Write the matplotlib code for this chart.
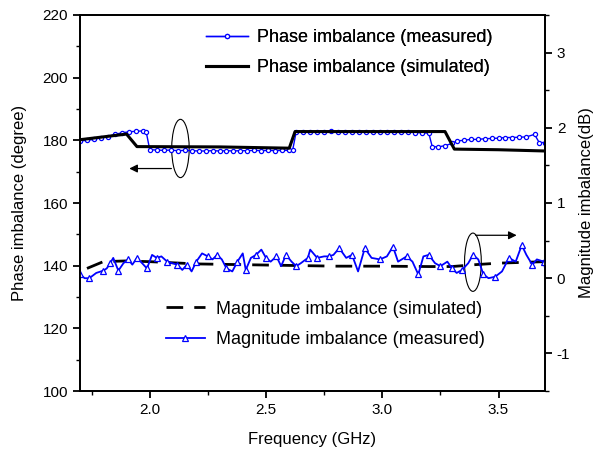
import matplotlib
matplotlib.use('Agg')
import matplotlib.pyplot as plt
from matplotlib.patches import Ellipse
from matplotlib.ticker import MultipleLocator, FormatStrFormatter

plt.rcParams['font.family'] = ['Liberation Sans', 'DejaVu Sans']
plt.rcParams['axes.unicode_minus'] = False

# phase imbalance, measured (degree)
phase_meas_f = [1.70, 1.73, 1.76, 1.79, 1.82, 1.85, 1.88, 1.91, 1.94, 1.97,
                1.985, 2.00, 2.03, 2.06, 2.09, 2.12, 2.15, 2.18, 2.21, 2.24,
                2.27, 2.30, 2.33, 2.36, 2.39, 2.42, 2.45, 2.48, 2.51, 2.54,
                2.57, 2.60, 2.615, 2.63, 2.66, 2.69, 2.72, 2.75, 2.78, 2.81,
                2.84, 2.87, 2.90, 2.93, 2.96, 2.99, 3.02, 3.05, 3.08, 3.11,
                3.14, 3.17, 3.20, 3.215, 3.24, 3.27, 3.30, 3.32, 3.35, 3.38,
                3.41, 3.44, 3.47, 3.50, 3.53, 3.56, 3.59, 3.62, 3.655, 3.675,
                3.70]
phase_meas = [179.8, 180.0, 180.3, 180.8, 181.2, 181.9, 182.4, 182.7, 182.9, 183.0,
              182.6, 177.0, 176.9, 176.8, 176.9, 176.7, 176.8, 176.7, 176.6, 176.6,
              176.7, 176.6, 176.7, 176.6, 176.7, 176.7, 176.8, 176.7, 176.8, 176.7,
              176.8, 176.8, 177.0, 182.8, 182.8, 182.7, 182.8, 182.8, 182.9, 182.7,
              182.8, 182.8, 182.7, 182.8, 182.6, 182.6, 182.7, 182.6, 182.7, 182.7,
              182.5, 182.4, 182.3, 178.0, 177.9, 178.3, 179.0, 179.8, 180.0, 180.3,
              180.3, 180.5, 180.6, 180.7, 180.9, 180.9, 181.0, 181.1, 181.9, 179.3,
              179.3]

# phase imbalance, simulated (degree)
phase_sim_f = [1.70, 1.90, 1.945, 2.30, 2.60, 2.625, 3.27, 3.31, 3.50, 3.70]
phase_sim = [180.2, 182.0, 178.0, 177.9, 177.5, 182.8, 182.8, 177.2, 177.0, 176.6]

# magnitude imbalance, measured (dB)
mag_meas_f = [1.70, 1.72, 1.74, 1.77, 1.80, 1.815, 1.83, 1.843, 1.865, 1.887,
              1.908, 1.925, 1.945, 1.967, 1.988, 2.01, 2.03, 2.05, 2.075, 2.096,
              2.118, 2.14, 2.16, 2.18, 2.20, 2.225, 2.25, 2.27, 2.29, 2.31,
              2.33, 2.355, 2.377, 2.40, 2.413, 2.435, 2.457, 2.48, 2.50, 2.52,
              2.545, 2.565, 2.586, 2.61, 2.63, 2.65, 2.68, 2.69, 2.72, 2.75,
              2.77, 2.79, 2.815, 2.845, 2.87, 2.896, 2.925, 2.954, 2.99, 3.02,
              3.046, 3.068, 3.105, 3.13, 3.155, 3.177, 3.20, 3.227, 3.25, 3.28,
              3.30, 3.32, 3.343, 3.37, 3.39, 3.413, 3.435, 3.457, 3.486, 3.515,
              3.545, 3.574, 3.60, 3.62, 3.645, 3.665, 3.695, 3.70]
mag_meas = [0.05, 0.0, 0.0, 0.07, 0.10, 0.13, 0.20, 0.27, 0.10, 0.20,
            0.25, 0.18, 0.27, 0.20, 0.13, 0.31, 0.27, 0.29, 0.22, 0.20,
            0.18, 0.11, 0.18, 0.09, 0.22, 0.33, 0.29, 0.25, 0.31, 0.25,
            0.13, 0.09, 0.22, 0.33, 0.11, 0.27, 0.31, 0.38, 0.27, 0.22,
            0.29, 0.16, 0.31, 0.22, 0.16, 0.20, 0.27, 0.38, 0.27, 0.29,
            0.29, 0.31, 0.40, 0.27, 0.31, 0.09, 0.40, 0.27, 0.25, 0.29,
            0.42, 0.22, 0.29, 0.22, 0.05, 0.29, 0.31, 0.20, 0.16, 0.22,
            0.13, 0.07, 0.11, 0.20, 0.31, 0.25, 0.05, 0.0, 0.02, 0.09,
            0.27, 0.22, 0.44, 0.31, 0.18, 0.25, 0.22, 0.13]

# magnitude imbalance, simulated (dB)
mag_sim_f = [1.73, 1.80, 1.90, 2.00, 2.20, 2.40, 2.60, 2.80, 3.00, 3.20,
             3.30, 3.40, 3.50, 3.60, 3.70]
mag_sim = [0.13, 0.22, 0.23, 0.22, 0.19, 0.18, 0.17, 0.16, 0.16, 0.155,
           0.155, 0.18, 0.20, 0.21, 0.22]

FS = 11

fig = plt.figure(figsize=(5.95, 4.51), dpi=100)
ax = fig.add_axes([80 / 595, 60 / 451, 465 / 595, 376 / 451])
ax2 = ax.twinx()

l1, = ax.plot(phase_meas_f, phase_meas, color='blue', lw=1.0, marker='o',
              ms=3.0, mfc='white', mec='blue', mew=0.9,
              label='Phase imbalance (measured)')
l2, = ax.plot(phase_sim_f, phase_sim, color='black', lw=2.2,
              label='Phase imbalance (simulated)')
l3, = ax2.plot(mag_sim_f, mag_sim, color='black', lw=2.0, ls=(0, (6, 4)),
               label='Magnitude imbalance (simulated)')
l4, = ax2.plot(mag_meas_f, mag_meas, color='blue', lw=1.3, marker='^',
               ms=4.5, mfc='white', mec='blue', mew=0.9, markevery=2,
               label='Magnitude imbalance (measured)')

ax.set_xlim(1.7, 3.7)
ax.set_ylim(100, 220)
ax2.set_ylim(-1.5, 3.5)

ax.xaxis.set_major_locator(MultipleLocator(0.5))
ax.xaxis.set_minor_locator(MultipleLocator(0.25))
ax.yaxis.set_major_locator(MultipleLocator(20))
ax.yaxis.set_minor_locator(MultipleLocator(10))
ax2.yaxis.set_major_locator(MultipleLocator(1))
ax2.yaxis.set_minor_locator(MultipleLocator(0.5))
ax.xaxis.set_major_formatter(FormatStrFormatter('%.1f'))

for a in (ax, ax2):
    for s in a.spines.values():
        s.set_linewidth(1.3)
    a.tick_params(which='major', direction='out', length=5, width=1.3,
                  labelsize=FS)
    a.tick_params(which='minor', direction='out', length=3, width=1.0)

ax.set_xlabel('Frequency (GHz)', fontsize=FS + 1, labelpad=11)
ax.set_ylabel('Phase imbalance (degree)', fontsize=FS + 1, labelpad=11)
ax2.set_ylabel('Magnitude imbalance(dB)', fontsize=FS + 1, labelpad=6)

# ellipses with arrows pointing to the related axis
ax.add_patch(Ellipse((2.132, 177.4), 0.075, 18.6, fill=False, lw=0.8,
                     ec='black'))
ax.annotate('', xy=(1.90, 171.0), xytext=(2.105, 171.0),
            arrowprops=dict(arrowstyle='-|>', color='black', lw=0.9,
                            mutation_scale=12))
ax.add_patch(Ellipse((3.39, 141.1), 0.072, 18.6, fill=False, lw=0.8,
                     ec='black'))
ax.annotate('', xy=(3.59, 149.7), xytext=(3.39, 149.7),
            arrowprops=dict(arrowstyle='-|>', color='black', lw=0.9,
                            mutation_scale=12))

leg1 = ax.legend(handles=[l1, l2], loc='center left',
                 bbox_to_anchor=(0.271, 0.900), frameon=False, fontsize=13,
                 borderpad=0, borderaxespad=0, handlelength=2.3,
                 handletextpad=0.5, labelspacing=0.75)
ax.add_artist(leg1)
ax2.legend(handles=[l3, l4], loc='center left',
           bbox_to_anchor=(0.185, 0.177), frameon=False, fontsize=13,
           borderpad=0, borderaxespad=0, handlelength=2.15,
           handletextpad=0.6, labelspacing=0.75)

fig.savefig('out.png', dpi=100)
